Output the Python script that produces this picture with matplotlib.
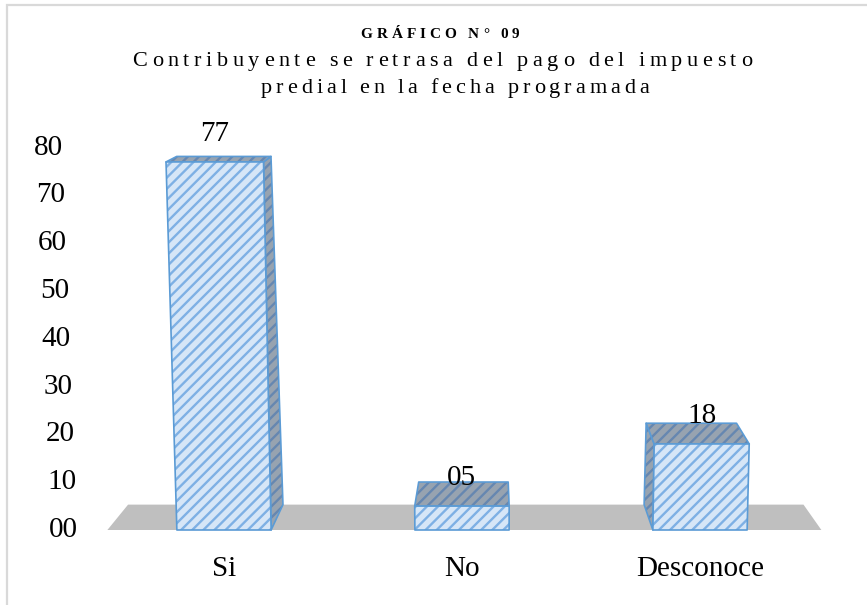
import numpy as np
import matplotlib.pyplot as plt
from matplotlib.patches import Polygon, Rectangle

plt.rcParams['font.family'] = ['Liberation Serif', 'DejaVu Serif']
plt.rcParams['hatch.linewidth'] = 1.7

# datos del gráfico
categorias = ['Si', 'No', 'Desconoce']
valores = [77, 5, 18]
etiquetas_valor = ['77', '05', '18']
marcas_y = [0, 10, 20, 30, 40, 50, 60, 70, 80]
etiquetas_y = ['00', '10', '20', '30', '40', '50', '60', '70', '80']
titulo = 'GRÁFICO N° 09'
subtitulo = ['Contribuyente se retrasa del pago del impuesto',
             'predial en la fecha programada']

# perspectiva aproximada del gráfico 3D (en unidades de datos)
uc, vy = 1.12, 98.3     # punto de fuga
conv = 0.00045          # convergencia de las verticales
prof = 0.054            # profundidad de barras y piso
ancho = 0.198           # medio ancho de barra

borde = '#5b9bd5'
frente_col, frente_ray = '#d6e6f7', '#7eb0e4'
lado_col, lado_ray = '#97a3b0', '#6687b0'


def frente(u, v):
    return uc + (u - uc) * (1 + conv * v), v


def fondo(u, v):
    x, y = frente(u, v)
    h = 0.5 + 0.5 * (vy - y) / vy
    return x + prof * (uc - x) * h, y + prof * (vy - y)


def cara(ax, pts, color, color_ray):
    ax.add_patch(Polygon(pts, closed=True, facecolor=color, edgecolor=color_ray,
                         hatch='///', lw=0))
    ax.add_patch(Polygon(pts, closed=True, facecolor='none', edgecolor=borde,
                         lw=1.2, joinstyle='round'))


def texto_espaciado(fig, xc, y, s, extra, **kw):
    # matplotlib no tiene espaciado entre letras: se coloca letra por letra
    r = fig.canvas.get_renderer()
    W, H = fig.bbox.width, fig.bbox.height
    anchos = []
    for ch in s:
        if ch == ' ':
            anchos.append(kw['fontsize'] * fig.dpi / 72 * 0.22)
            continue
        t = fig.text(0, 0, ch, **kw)
        anchos.append(t.get_window_extent(r).width)
        t.remove()
    x = xc - (sum(anchos) + extra * (len(s) - 1)) / 2
    for ch, a in zip(s, anchos):
        if ch != ' ':
            fig.text(x / W, 1 - y / H, ch, ha='left', va='baseline', **kw)
        x += a + extra


fig = plt.figure(figsize=(8.67, 6.05), dpi=100)
ax = fig.add_axes([0, 0, 1, 1])
ax.set_xlim(-224 / 238, 643 / 238)
ax.set_ylim(-75 / 4.78, 530 / 4.78)
ax.axis('off')

# marco del área del gráfico
fig.add_artist(Rectangle((7 / 867, -0.1), 1.2, 1.1 - 5 / 605, transform=fig.transFigure,
                         facecolor='none', edgecolor='#d9d9d9', lw=1.6))

# piso
piso = [-0.49, len(categorias) - 1 + 0.51]
ax.add_patch(Polygon([frente(piso[0], 0), frente(piso[1], 0),
                      fondo(piso[1], 0), fondo(piso[0], 0)],
                     closed=True, facecolor='#bfbfbf', edgecolor='none'))

# barras
for i, v in enumerate(valores):
    l, r = i - ancho, i + ancho
    if r < uc:
        cara(ax, [frente(r, 0), frente(r, v), fondo(r, v), fondo(r, 0)], lado_col, lado_ray)
    elif l > uc:
        cara(ax, [frente(l, 0), frente(l, v), fondo(l, v), fondo(l, 0)], lado_col, lado_ray)
    cara(ax, [frente(l, v), frente(r, v), fondo(r, v), fondo(l, v)], lado_col, lado_ray)
    cara(ax, [frente(l, 0), frente(r, 0), frente(r, v), frente(l, v)], frente_col, frente_ray)
    ax.text(frente(i, v)[0], v + 5.8, etiquetas_valor[i], ha='center', va='center', fontsize=21)
    ax.text(i, -8.1, categorias[i], ha='center', va='center', fontsize=21)

# etiquetas del eje y
for t, lab in zip(marcas_y, etiquetas_y):
    x, y = frente(-0.613, t)
    ax.text(x, y, lab, ha='right', va='center', fontsize=21)

# títulos
texto_espaciado(fig, 440, 38, titulo, 4.0, fontsize=11, fontweight='bold')
texto_espaciado(fig, 442, 66, subtitulo[0], 4.6, fontsize=16)
texto_espaciado(fig, 455, 93, subtitulo[1], 4.0, fontsize=16)

fig.savefig('out.png', dpi=100)
